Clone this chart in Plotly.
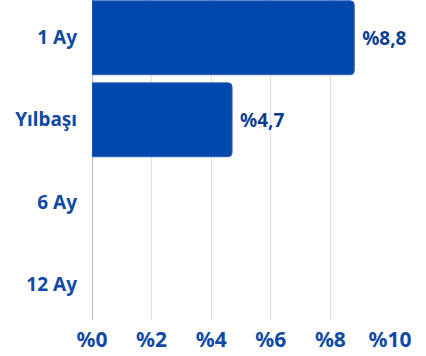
import plotly.graph_objects as go

categories = ["1 Ay", "Yılbaşı", "6 Ay", "12 Ay"]
values = [8.8, 4.7, None, None]
tick_values = [0, 2, 4, 6, 8, 10]
tick_labels = ["%0", "%2", "%4", "%6", "%8", "%10"]

bar_color = "#0047AB"
text_color = "#0B3D91"
label_color = "#1149A3"

texts = ["" if v is None else " %" + f"{v:.1f}".replace(".", ",") for v in values]

fig = go.Figure(go.Bar(
    y=list(range(len(categories))),
    x=values,
    orientation="h",
    marker=dict(color=bar_color, line=dict(color="#2a62bd", width=1), cornerradius=4),
    text=texts,
    textposition="outside",
    cliponaxis=False,
    hoverinfo="skip",
    textfont=dict(family="Noto Sans", size=19, color=text_color, weight="bold"),
))

fig.update_layout(
    width=426, height=356,
    margin=dict(l=92, r=36, t=0, b=36, autoexpand=False),
    plot_bgcolor="white", paper_bgcolor="white",
    bargap=0.1,
    showlegend=False,
    xaxis=dict(
        range=[0, 10], tickvals=tick_values, ticktext=tick_labels,
        showgrid=True, gridcolor="#d3def2", gridwidth=1,
        zeroline=True, zerolinecolor="#a9c0e8", zerolinewidth=1,
        ticklabelstandoff=5, automargin=False,
        tickfont=dict(family="Noto Sans", size=21, color=label_color, weight="bold"),
        fixedrange=True,
    ),
    yaxis=dict(
        range=[3.44, -0.46],
        tickvals=list(range(len(categories))), ticktext=categories,
        showgrid=False, zeroline=False, automargin=False,
        ticklabelstandoff=14, fixedrange=True,
        tickfont=dict(family="Noto Sans", size=19, color=label_color, weight="bold"),
    ),
)

fig.write_html(
    "out.html",
    config={"displayModeBar": False, "staticPlot": True},
    post_script="document.body.style.margin='0';document.body.style.overflow='hidden';",
)
